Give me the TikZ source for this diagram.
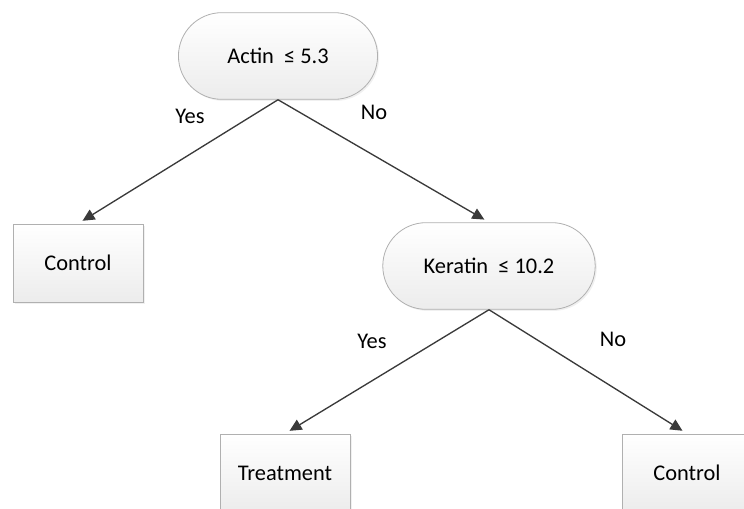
\documentclass[tikz,border=0pt]{standalone}
\usepackage{fontspec}
\setmainfont{Carlito}
\usetikzlibrary{shapes.misc,shadows,arrows.meta}
\definecolor{edgegray}{HTML}{3A3A3A}
\definecolor{boxline}{HTML}{B0B0B0}
\definecolor{boxfill}{HTML}{ECECEC}
\tikzset{
    test/.style={rounded rectangle, draw=boxline, line width=0.6pt,
        top color=white, bottom color=boxfill, minimum height=65pt,
        drop shadow={shadow xshift=1.2pt, shadow yshift=-1.2pt, opacity=0.12}},
    leaf/.style={rectangle, draw=boxline, line width=0.6pt,
        top color=white, bottom color=boxfill, minimum width=97.5pt, minimum height=58.5pt,
        drop shadow={shadow xshift=1.2pt, shadow yshift=-1.2pt, opacity=0.12}},
    branch/.style={-{Triangle[length=9pt,width=8.5pt]}, draw=edgegray, line width=1pt, shorten >=4pt},
    answer/.style={text=black}
}
\begin{document}
\begin{tikzpicture}[x=0.75pt, y=-0.75pt, every node/.style={font=\fontsize{16.8}{20}\selectfont}]
    \useasboundingbox (0,0) rectangle (744,508);
    % tests
    \node[test, minimum width=156pt] (actin) at (278,56) {Actin\ \ ≤ 5.3};
    \node[test, minimum width=166pt] (keratin) at (489,266) {Keratin\ \ ≤ 10.2};
    % leaves
    \node[leaf] (controlA) at (78,263) {Control};
    \node[leaf] (treat) at (285,473) {Treatment};
    \node[leaf] (controlB) at (687,473) {Control};
    % branches
    \draw[branch] (actin.south) -- (controlA.north);
    \draw[branch] (actin.south) -- (keratin.north);
    \draw[branch] (keratin.south) -- (treat.north);
    \draw[branch] (keratin.south) -- (controlB.north);
    % answers
    \node[answer] (yesA) at (190,116) {Yes};
    \node[answer] (noA) at (374,112) {No};
    \node[answer] (yesB) at (372,341) {Yes};
    \node[answer] (noB) at (613,339) {No};
\end{tikzpicture}
\end{document}
